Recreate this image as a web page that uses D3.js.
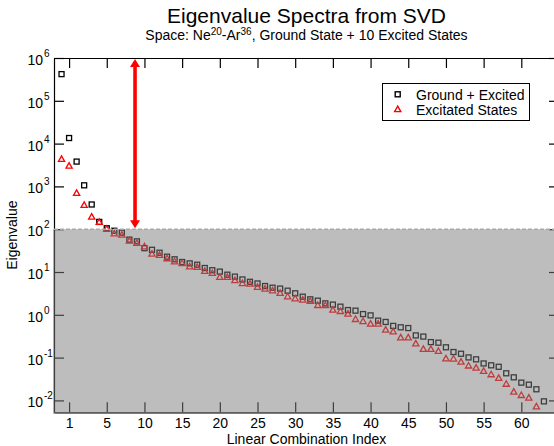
<!DOCTYPE html>
<html lang="en">
<head>
<meta charset="utf-8">
<title>Eigenvalue Spectra from SVD</title>
<style>
    body {
        margin: 0;
        background: white;
    }

    svg {
        display: block;
        font-family: "Liberation Sans", Arial, Helvetica, sans-serif;
    }

    .axis path, .axis line {
        stroke: black;
        stroke-width: 1.2;
    }
</style>
</head>
<body>
<svg id="chart" width="554" height="446"></svg>
<script src="https://d3js.org/d3.v7.min.js"></script>
<script>
    // eigenvalues, one per linear combination (index 0 first)
    const groundExcited = [
        4.2e5, 1.35e4, 3800, 1060, 378, 148, 105, 92, 83, 57,
        52, 36, 33, 28.2, 22.8, 19.8, 17.1, 15.9, 14.8, 12.4,
        11, 10.2, 8.65, 7.8, 6.7, 5.9, 5.4, 4.7, 4.3, 4.1,
        3.66, 3.18, 2.65, 2.3, 2.14, 1.85, 1.73, 1.55, 1.29, 1.25,
        1.04, 0.97, 0.73, 0.68, 0.55, 0.51, 0.49, 0.33, 0.31, 0.23,
        0.223, 0.174, 0.135, 0.123, 0.101, 0.091, 0.073, 0.066, 0.061, 0.043,
        0.0346, 0.026, 0.0233, 0.0182, 0.0095
    ];
    const excitedStates = [
        4300, 3000, 690, 361, 193, 145, 100, 78, 73, 53,
        47, 39, 26.3, 24.5, 20.5, 17.4, 15.9, 13.3, 12.9, 10.4,
        9.3, 7.5, 7.5, 6.3, 5.4, 5.25, 4.4, 4.0, 3.66, 3.18,
        2.65, 2.38, 2.22, 2.07, 1.66, 1.66, 1.29, 1.2, 1.04, 0.78,
        0.70, 0.61, 0.61, 0.44, 0.40, 0.29, 0.29, 0.21, 0.156, 0.156,
        0.14, 0.094, 0.093, 0.079, 0.064, 0.057, 0.048, 0.040, 0.033, 0.024,
        0.0157, 0.0131, 0.0114, 0.0071
    ];
    const xTickPos = [1, 6, 11, 16, 21, 26, 31, 36, 41, 46, 51, 56, 61];
    const xTickLabels = ["1", "5", "10", "15", "20", "25", "30", "35", "40", "45", "50", "55", "60"];
    const yTickExp = [-2, -1, 0, 1, 2, 3, 4, 5, 6];
    const cutoff = 100;
    const arrowIndex = 9.75;
    const arrowFrom = 1e6;

    const svg = d3.select("#chart");
    const mLeft = 54, mRight = 559, mTop = 58, mBottom = 412.3;

    const x = d3.scaleLinear().domain([-1, 66]).range([mLeft, mRight]);
    const y = d3.scaleLog().domain([Math.pow(10, -2.278), 1e6]).range([mBottom, mTop]);

    // markers
    const plot = svg.append("g");
    plot.selectAll("rect.sq")
        .data(groundExcited)
        .join("rect").attr("class", "sq")
        .attr("x", (d, i) => x(i) - 2.5).attr("y", d => y(d) - 2.5)
        .attr("width", 5).attr("height", 5)
        .attr("fill", "none").attr("stroke", "black").attr("stroke-width", 1.3);

    const tri = "M0,-3.4L3.1,2.1L-3.1,2.1Z";
    plot.selectAll("path.tri")
        .data(excitedStates)
        .join("path").attr("class", "tri")
        .attr("d", tri)
        .attr("transform", (d, i) => `translate(${x(i)},${y(d)})`)
        .attr("fill", "none").attr("stroke", "#ff0000").attr("stroke-width", 1.3);

    // axes (ticks inward on all sides)
    const yTicks = yTickExp.map(e => Math.pow(10, e));
    svg.append("g").attr("class", "axis")
        .attr("transform", `translate(0,${mBottom})`)
        .call(d3.axisBottom(x).tickValues(xTickPos).tickSizeInner(-10).tickSizeOuter(0)
            .tickPadding(6).tickFormat((d, i) => xTickLabels[i]))
        .call(g => g.selectAll("text").attr("font-size", 14).attr("fill", "black"))
        .attr("font-family", null);
    svg.append("g").attr("class", "axis")
        .attr("transform", `translate(0,${mTop})`)
        .call(d3.axisTop(x).tickValues(xTickPos).tickSizeInner(-10).tickSizeOuter(0).tickFormat(""));
    const yAxis = svg.append("g").attr("class", "axis")
        .attr("transform", `translate(${mLeft},0)`)
        .call(d3.axisLeft(y).tickValues(yTicks).tickSizeInner(-10).tickSizeOuter(0).tickFormat(""))
        .attr("font-family", null);
    svg.append("g").attr("class", "axis")
        .attr("transform", `translate(${mRight},0)`)
        .call(d3.axisRight(y).tickValues(yTicks).tickSizeInner(-10).tickSizeOuter(0).tickFormat(""));

    yAxis.selectAll(".tick").each(function(d, i) {
        const t = d3.select(this);
        t.append("text").attr("x", -11).attr("y", 6.5)
            .attr("text-anchor", "end").attr("font-size", 14).attr("fill", "black")
            .text("10");
        t.append("text").attr("x", -10).attr("y", -1.5)
            .attr("font-size", 10).attr("fill", "black").attr("text-anchor", "start")
            .text(yTickExp[i]);
    });

    // shaded region below the cutoff
    svg.append("rect")
        .attr("x", mLeft - 1).attr("y", y(cutoff))
        .attr("width", mRight - mLeft + 2).attr("height", mBottom - y(cutoff) + 1.5)
        .attr("fill", "#7b7b7b").attr("opacity", 0.5);
    svg.append("line")
        .attr("x1", mLeft).attr("x2", mRight)
        .attr("y1", y(cutoff)).attr("y2", y(cutoff))
        .attr("stroke", "#a9a9a9").attr("stroke-width", 1.6).attr("stroke-dasharray", "4,2");

    // double headed arrow
    const ax = x(arrowIndex), ay1 = y(arrowFrom) + 1, ay2 = y(cutoff) - 1;
    const headL = 8, headW = 5;
    svg.append("line")
        .attr("x1", ax).attr("x2", ax).attr("y1", ay1 + headL - 1).attr("y2", ay2 - headL + 1)
        .attr("stroke", "#ff0000").attr("stroke-width", 3.6);
    svg.append("path")
        .attr("d", `M${ax},${ay1}L${ax + headW},${ay1 + headL}L${ax - headW},${ay1 + headL}Z`)
        .attr("fill", "#ff0000");
    svg.append("path")
        .attr("d", `M${ax},${ay2}L${ax + headW},${ay2 - headL}L${ax - headW},${ay2 - headL}Z`)
        .attr("fill", "#ff0000");

    // legend
    const legend = svg.append("g").attr("transform", "translate(382.5,83.5)");
    legend.append("rect").attr("width", 147).attr("height", 37)
        .attr("fill", "white").attr("stroke", "black").attr("stroke-width", 1);
    legend.append("rect").attr("x", 12.7).attr("y", 8.3).attr("width", 5).attr("height", 5)
        .attr("fill", "none").attr("stroke", "black").attr("stroke-width", 1.4);
    legend.append("path").attr("d", tri).attr("transform", "translate(15.2,26)")
        .attr("fill", "none").attr("stroke", "#ff0000").attr("stroke-width", 1.4);
    legend.append("text").attr("x", 33.5).attr("y", 16).attr("font-size", 14).text("Ground + Excited");
    legend.append("text").attr("x", 33.5).attr("y", 31).attr("font-size", 14).text("Excitated States");

    // titles
    const cx = (mLeft + mRight) / 2;
    svg.append("text").attr("x", cx).attr("y", 22.5).attr("text-anchor", "middle")
        .attr("font-size", 21).text("Eigenvalue Spectra from SVD");
    const sub = svg.append("text").attr("x", cx).attr("y", 40).attr("text-anchor", "middle")
        .attr("font-size", 14);
    sub.append("tspan").text("Space: Ne");
    sub.append("tspan").attr("dy", -5.5).attr("font-size", 10).text("20");
    sub.append("tspan").attr("dy", 5.5).text("-Ar");
    sub.append("tspan").attr("dy", -5.5).attr("font-size", 10).text("36");
    sub.append("tspan").attr("dy", 5.5).text(", Ground State + 10 Excited States");

    svg.append("text").attr("x", cx).attr("y", 444).attr("text-anchor", "middle")
        .attr("font-size", 14).text("Linear Combination Index");
    svg.append("text").attr("transform", `translate(16.7,${(mTop + mBottom) / 2}) rotate(-90)`)
        .attr("text-anchor", "middle").attr("font-size", 14).text("Eigenvalue");
</script>
</body>
</html>
